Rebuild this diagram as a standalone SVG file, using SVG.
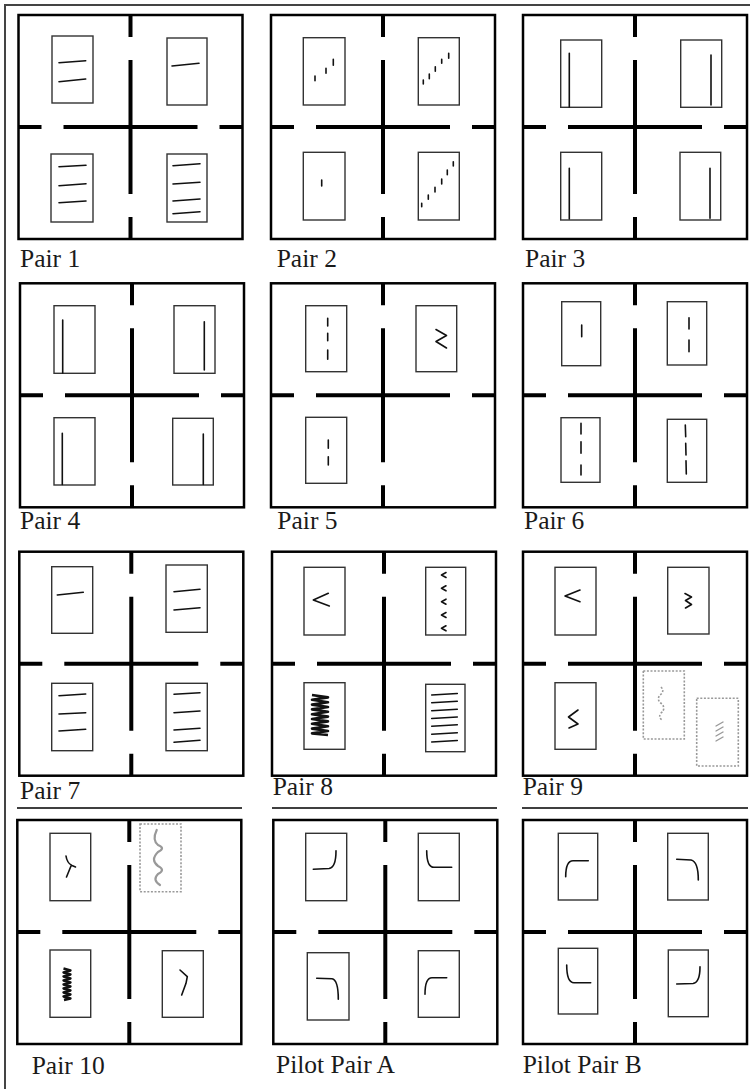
<svg xmlns="http://www.w3.org/2000/svg" width="750" height="1089" viewBox="0 0 750 1089">
<style>
.frame{fill:#fff;stroke:#000;stroke-width:2.5}
.cross{stroke:#000;stroke-width:4;fill:none}
.card{fill:none;stroke:#333;stroke-width:1.4}
.mark{fill:none;stroke:#111;stroke-width:1.6;stroke-linecap:round;stroke-linejoin:round}
.bold{fill:none;stroke:#111;stroke-width:2.6;stroke-linejoin:round}
.dot{fill:none;stroke:#999;stroke-width:1.6;stroke-dasharray:2 1.6}
.gray{fill:none;stroke:#999;stroke-width:2.2;stroke-linecap:round}
.label{font-family:"Liberation Serif","Times New Roman",serif;font-size:25.5px;fill:#1a1a1a}
.rule{stroke:#444;stroke-width:2;fill:none}
</style>
<defs>
<g id="panel">
<rect class="frame" x="0" y="0" width="224" height="224"/>
<path class="cross" d="M112,0V22M112,45V179M112,202V224M0,112H23M45,112H179M201,112H224"/>
</g>
</defs>
<rect x="0" y="0" width="750" height="1089" fill="#fff"/>
<path class="rule" d="M5,1089V5H750"/>
<path d="M17,808H242M272,808H497M522,808H748" stroke="#000" stroke-width="1.5"/>

<g id="pair1">
<use href="#panel" x="18.5" y="15"/>
<rect class="card" x="52" y="36" width="41" height="67"/>
<rect class="card" x="167" y="38" width="40" height="67"/>
<rect class="card" x="51" y="154" width="42" height="68"/>
<rect class="card" x="167" y="154" width="40" height="68"/>
<path class="mark" d="M59,62.7L85.7,60.7M59,81.7L85.7,79M172,66L199,63.3M59,166.7L86,165.2M59,185.7L86,183.7M59,202.7L86,201M173,165.7L200,163.7M173,184L200,182.3M173,201L200,199M173,213.7L200,211.7"/>
<text class="label" x="20" y="267">Pair 1</text>
</g>

<g id="pair2">
<use href="#panel" x="271" y="15"/>
<rect class="card" x="303.3" y="37.7" width="41.7" height="67.3"/>
<rect class="card" x="418.3" y="37.7" width="41" height="67.3"/>
<rect class="card" x="303.3" y="152.3" width="41.7" height="67.7"/>
<rect class="card" x="418.3" y="152.3" width="41" height="67.7"/>
<path class="mark" d="M315,76V80.7M326,68.3V73.3M333.3,59.3V65.3M423.3,80V84M429.3,74V78.7M435.3,66.7V71.3M441.7,59.3V63.3M448.7,53.3V58.3M321.7,180V186M421.7,203.3V206.7M428.3,195V199.3M435,187.3V192M441.7,179V184M447.3,170V174.7M453.3,161.7V166"/>
<text class="label" x="276.7" y="267">Pair 2</text>
</g>

<g id="pair3">
<use href="#panel" x="523" y="15"/>
<rect class="card" x="560.7" y="40" width="41" height="67.3"/>
<rect class="card" x="680.7" y="40" width="41" height="67.3"/>
<rect class="card" x="560.7" y="152.3" width="41" height="67.7"/>
<rect class="card" x="680" y="152.3" width="40.7" height="67.7"/>
<path class="mark" d="M569.3,53.3V107M711,55V105M569.3,168.3V219M710,168.3V218.3"/>
<text class="label" x="525" y="267">Pair 3</text>
</g>

<g id="pair4">
<use href="#panel" x="20" y="283.3"/>
<rect class="card" x="54" y="305.7" width="41" height="67.6"/>
<rect class="card" x="174" y="305.7" width="41" height="67.6"/>
<rect class="card" x="54" y="417.7" width="41" height="67.3"/>
<rect class="card" x="172.7" y="418.3" width="40.6" height="66.7"/>
<path class="mark" d="M62.7,320V373M204.3,321.7V370M62.3,433.3V484.5M203.3,434V484.5"/>
<text class="label" x="20" y="529">Pair 4</text>
</g>

<g id="pair5">
<use href="#panel" x="271" y="283.3"/>
<rect class="card" x="305.7" y="305.7" width="41" height="66"/>
<rect class="card" x="416" y="305.7" width="40.7" height="66"/>
<rect class="card" x="305.7" y="417.3" width="41" height="66"/>
<path class="mark" d="M327.7,318.3V326M327.7,333.3V340.7M327.7,350V359.3M328.3,440V448.3M328.3,456.7V465"/>
<path class="mark" d="M436,329.5L446.5,335.5L436,341.5L446.5,348"/>
<text class="label" x="277.3" y="529">Pair 5</text>
</g>

<g id="pair6">
<use href="#panel" x="523" y="283.3"/>
<rect class="card" x="561.7" y="301.7" width="39" height="64"/>
<rect class="card" x="667.3" y="301.7" width="39.4" height="63.3"/>
<rect class="card" x="561" y="417.7" width="39" height="64.6"/>
<rect class="card" x="667.3" y="419.3" width="39.4" height="63"/>
<path class="mark" d="M581.7,325V336.7M689,317.7V329M689,340V351.7M581,423.3V434M581,441.7V453.3M581,465V475M685.3,425L685.7,436.7M685.7,443.3L686,455M686,460.7L686.3,474"/>
<text class="label" x="524" y="529">Pair 6</text>
</g>

<g id="pair7">
<use href="#panel" x="19.3" y="551.7"/>
<rect class="card" x="51.7" y="566.7" width="41" height="66.6"/>
<rect class="card" x="166" y="565" width="41.3" height="67.3"/>
<rect class="card" x="51.7" y="683.3" width="41" height="67.4"/>
<rect class="card" x="166" y="683.3" width="41.3" height="67.4"/>
<path class="mark" d="M57.3,595L83.3,592.3M174,591.7L200,589.3M174,610L200,607.7M59,695.7L85.7,694M59,714L85.7,712.7M59,731L85.7,729.3M174,694.3L200,692.7M174,712.7L200,711M174,730L200,728.3M174,742.3L200,740.3"/>
<text class="label" x="20" y="799">Pair 7</text>
</g>

<g id="pair8">
<use href="#panel" x="272" y="551.7"/>
<rect class="card" x="304" y="567.3" width="41" height="67.7"/>
<rect class="card" x="425.7" y="567.3" width="40" height="67.7"/>
<rect class="card" x="304" y="682.7" width="41" height="66.6"/>
<rect class="card" x="425.7" y="684.3" width="39.3" height="67.4"/>
<path class="mark" d="M328.3,593.3L313.3,600L329.3,606"/>
<path class="mark" d="M446,572.5L441.5,575L446,577.5M446,585.8L441.5,588.3L446,590.8M446,599.2L441.5,601.7L446,604.2M446,612.5L441.5,615L446,617.5M446,625.8L441.5,628.3L446,630.8"/>
<path class="bold" d="M312,695L328,697.4L312,699.8L328,702.2L312,704.6L328,707L312,709.4L328,711.8L312,714.2L328,716.6L312,719L328,721.4L312,723.8L328,726.2L312,728.6L328,731L312,733.4L328,735"/>
<path class="mark" d="M431.7,695L457.3,693.5M431.7,702.8L457.3,701.3M431.7,710.7L457.3,709.2M431.7,718.5L457.3,717M431.7,726.3L457.3,724.8M431.7,734.2L457.3,732.7M431.7,742L457.3,740.5"/>
<text class="label" x="272.7" y="795">Pair 8</text>
</g>

<g id="pair9">
<use href="#panel" x="523" y="551.7"/>
<rect class="card" x="555" y="567.3" width="41" height="67.7"/>
<rect class="card" x="667.7" y="567.3" width="41.3" height="66.7"/>
<rect class="card" x="555" y="682.7" width="41" height="66.6"/>
<path class="mark" d="M580,590L565,596L580,601.7"/>
<path class="mark" d="M685,593.5L691.5,597L685.5,600.5L691.5,604.5L685.5,608"/>
<path class="mark" d="M578,710L568.5,717L578,724L569,728"/>
<rect class="dot" x="643.3" y="671" width="41" height="68"/>
<rect class="dot" x="696.7" y="698.3" width="41.6" height="67.7"/>
<path class="dot" d="M661,687Q665,691 660,695Q656,700 662,704Q666,709 661,713Q658,717 662,720"/>
<path class="gray" style="stroke-width:1.4" d="M716,726L723,722M716,731L723,727M716,736L723,732M716,741L723,737"/>
<text class="label" x="522.7" y="795">Pair 9</text>
</g>

<g id="pair10">
<use href="#panel" x="17.3" y="820"/>
<rect class="card" x="50" y="833.3" width="40.7" height="67.4"/>
<rect class="dot" x="140" y="824" width="41" height="67.7"/>
<rect class="card" x="50" y="950" width="40.7" height="67.3"/>
<rect class="card" x="162.3" y="950.7" width="41" height="66.6"/>
<path class="mark" d="M66,856Q67,863 72,865.5L75.5,867M71,866L66.5,877"/>
<path class="gray" d="M156.7,830Q152,840 158,845Q166,848 158,852Q150,860 158,866Q166,870 158,874Q152,880 160,885"/>
<path class="bold" style="stroke-width:2.4" d="M63.5,968.5L70.5,970.5L63.5,972.5L70.5,974.5L63.5,976.5L70.5,978.5L63.5,980.5L70.5,982.5L63.5,984.5L70.5,986.5L63.5,988.5L70.5,990.5L63.5,992.5L70.5,994.5L63.5,996.5L70.5,998.5L64,1000"/>
<path class="mark" d="M180,970L187.3,976.7L186,983.3L181.7,995"/>
<text class="label" x="31.7" y="1074">Pair 10</text>
</g>

<g id="pilotA">
<use href="#panel" x="273.3" y="820"/>
<rect class="card" x="305.7" y="833.3" width="41" height="67.4"/>
<rect class="card" x="418.3" y="833.3" width="41" height="67.4"/>
<rect class="card" x="307.3" y="952.7" width="41.7" height="67.3"/>
<rect class="card" x="418.3" y="950.7" width="41" height="66.6"/>
<path class="mark" d="M313.3,869.3L329,868.5Q336,867.5 336,850.7M426.7,850.7Q426.7,867.3 434,867.3L451.7,867.3M316.7,978.3L332,978.8Q338.3,980 338.3,999.3M425,994.3Q425,977.7 432,977.7L446.7,977.7"/>
<text class="label" x="276" y="1073">Pilot Pair A</text>
</g>

<g id="pilotB">
<use href="#panel" x="523" y="820"/>
<rect class="card" x="558.3" y="833.3" width="39.4" height="66.7"/>
<rect class="card" x="667.7" y="833.3" width="40.6" height="66.7"/>
<rect class="card" x="558.3" y="948.3" width="39.4" height="65.7"/>
<rect class="card" x="668.3" y="950" width="40" height="66.7"/>
<path class="mark" d="M565.7,876.7Q565.7,860.7 573,860.7L588.3,860.7M676.7,859.3L691,860Q698.3,861.5 698.3,880M566.7,965Q566.7,982.7 574,982.7L590.7,982.7M676.7,984L693,983.5Q700,982.5 700,966.7"/>
<text class="label" x="522.7" y="1073">Pilot Pair B</text>
</g>
</svg>
